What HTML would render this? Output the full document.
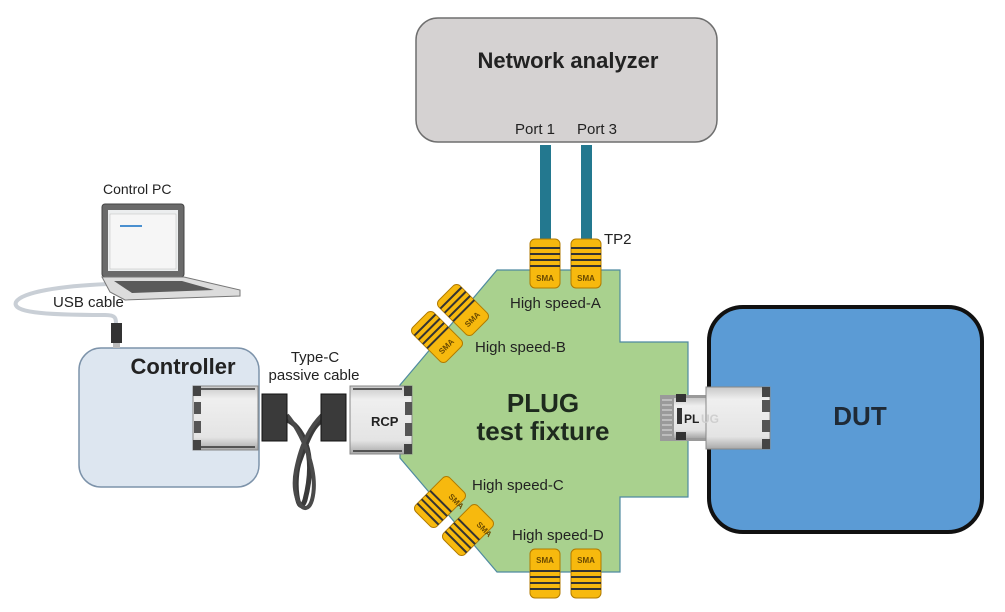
<!DOCTYPE html>
<html><head><meta charset="utf-8"><style>
html,body{margin:0;padding:0;background:#fff;}
svg{display:block;font-family:"Liberation Sans",sans-serif;}
</style></head><body>
<svg width="1005" height="612" viewBox="0 0 1005 612" xmlns="http://www.w3.org/2000/svg">
<defs>
<linearGradient id="silver" x1="0" y1="0" x2="0" y2="1">
<stop offset="0" stop-color="#c8c8c8"/><stop offset="0.2" stop-color="#efefef"/><stop offset="0.8" stop-color="#e4e4e4"/><stop offset="1" stop-color="#a8a8a8"/>
</linearGradient>
</defs>
<!-- Network analyzer -->
<rect x="416" y="18" width="301" height="124" rx="22" fill="#d5d2d2" stroke="#6f6f6f" stroke-width="1.5"/>
<text x="568" y="68" font-size="22" font-weight="bold" text-anchor="middle" fill="#222">Network analyzer</text>
<text x="515" y="134" font-size="15" fill="#222">Port 1</text>
<text x="577" y="134" font-size="15" fill="#222">Port 3</text>
<rect x="540" y="145" width="11" height="96" fill="#23788f"/>
<rect x="581" y="145" width="11" height="96" fill="#23788f"/>
<text x="604" y="244" font-size="15" fill="#222">TP2</text>

<!-- DUT -->
<rect x="709" y="307" width="273" height="225" rx="34" fill="#5b9bd5" stroke="#111" stroke-width="4"/>
<text x="860" y="425" font-size="26" font-weight="bold" text-anchor="middle" fill="#1f2a36">DUT</text>

<!-- Fixture -->
<polygon points="497,270 620,270 620,342 688,342 688,497 620,497 620,572 497,572 400,458 400,385" fill="#a9d18e" stroke="#4f8aa0" stroke-width="1.2"/>
<text x="543" y="412" font-size="26" font-weight="bold" text-anchor="middle" fill="#1e2a1e">PLUG</text>
<text x="543" y="440" font-size="26" font-weight="bold" text-anchor="middle" fill="#1e2a1e">test fixture</text>
<text x="510" y="308" font-size="15" fill="#222">High speed-A</text>
<text x="475" y="352" font-size="15" fill="#222">High speed-B</text>
<text x="472" y="490" font-size="15" fill="#222">High speed-C</text>
<text x="512" y="540" font-size="15" fill="#222">High speed-D</text>

<!-- SMA top -->
<g>
<rect x="530" y="239" width="30" height="49" rx="5" fill="#f7b90e" stroke="#b07a00"/>
<rect x="530" y="247" width="30" height="2" fill="#333"/><rect x="530" y="253" width="30" height="2" fill="#333"/><rect x="530" y="259" width="30" height="2" fill="#333"/><rect x="530" y="265" width="30" height="2" fill="#333"/>
<text x="545" y="281" font-size="8" font-weight="bold" text-anchor="middle" fill="#6b4a00">SMA</text>
<rect x="571" y="239" width="30" height="49" rx="5" fill="#f7b90e" stroke="#b07a00"/>
<rect x="571" y="247" width="30" height="2" fill="#333"/><rect x="571" y="253" width="30" height="2" fill="#333"/><rect x="571" y="259" width="30" height="2" fill="#333"/><rect x="571" y="265" width="30" height="2" fill="#333"/>
<text x="586" y="281" font-size="8" font-weight="bold" text-anchor="middle" fill="#6b4a00">SMA</text>
</g>
<!-- SMA bottom -->
<g>
<rect x="530" y="549" width="30" height="49" rx="5" fill="#f7b90e" stroke="#b07a00"/>
<rect x="530" y="570" width="30" height="2" fill="#333"/><rect x="530" y="576" width="30" height="2" fill="#333"/><rect x="530" y="582" width="30" height="2" fill="#333"/><rect x="530" y="588" width="30" height="2" fill="#333"/>
<text x="545" y="563" font-size="8" font-weight="bold" text-anchor="middle" fill="#6b4a00">SMA</text>
<rect x="571" y="549" width="30" height="49" rx="5" fill="#f7b90e" stroke="#b07a00"/>
<rect x="571" y="570" width="30" height="2" fill="#333"/><rect x="571" y="576" width="30" height="2" fill="#333"/><rect x="571" y="582" width="30" height="2" fill="#333"/><rect x="571" y="588" width="30" height="2" fill="#333"/>
<text x="586" y="563" font-size="8" font-weight="bold" text-anchor="middle" fill="#6b4a00">SMA</text>
</g>
<!-- SMA angled upper -->
<g transform="translate(463,310) rotate(-45)">
<rect x="-15" y="-24" width="30" height="48" rx="5" fill="#f7b90e" stroke="#b07a00"/>
<rect x="-15" y="-18" width="30" height="2" fill="#333"/><rect x="-15" y="-12" width="30" height="2" fill="#333"/><rect x="-15" y="-6" width="30" height="2" fill="#333"/><rect x="-15" y="0" width="30" height="2" fill="#333"/>
<text x="0" y="16" font-size="8" font-weight="bold" text-anchor="middle" fill="#6b4a00">SMA</text>
</g>
<g transform="translate(437,337) rotate(-45)">
<rect x="-15" y="-24" width="30" height="48" rx="5" fill="#f7b90e" stroke="#b07a00"/>
<rect x="-15" y="-18" width="30" height="2" fill="#333"/><rect x="-15" y="-12" width="30" height="2" fill="#333"/><rect x="-15" y="-6" width="30" height="2" fill="#333"/><rect x="-15" y="0" width="30" height="2" fill="#333"/>
<text x="0" y="16" font-size="8" font-weight="bold" text-anchor="middle" fill="#6b4a00">SMA</text>
</g>
<!-- SMA angled lower -->
<g transform="translate(440,502) rotate(-135)">
<rect x="-15" y="-24" width="30" height="48" rx="5" fill="#f7b90e" stroke="#b07a00"/>
<rect x="-15" y="-18" width="30" height="2" fill="#333"/><rect x="-15" y="-12" width="30" height="2" fill="#333"/><rect x="-15" y="-6" width="30" height="2" fill="#333"/><rect x="-15" y="0" width="30" height="2" fill="#333"/>
</g>
<text x="448" y="497" font-size="8" font-weight="bold" fill="#6b4a00" transform="rotate(45 448 497)">SMA</text>
<g transform="translate(468,530) rotate(-135)">
<rect x="-15" y="-24" width="30" height="48" rx="5" fill="#f7b90e" stroke="#b07a00"/>
<rect x="-15" y="-18" width="30" height="2" fill="#333"/><rect x="-15" y="-12" width="30" height="2" fill="#333"/><rect x="-15" y="-6" width="30" height="2" fill="#333"/><rect x="-15" y="0" width="30" height="2" fill="#333"/>
</g>
<text x="476" y="525" font-size="8" font-weight="bold" fill="#6b4a00" transform="rotate(45 476 525)">SMA</text>

<!-- PLUG connector at DUT -->
<rect x="660" y="395" width="46" height="46" fill="#9a9a9a"/>
<g stroke="#e0e0e0" stroke-width="1"><line x1="662" y1="400" x2="672" y2="400"/><line x1="662" y1="405" x2="672" y2="405"/><line x1="662" y1="410" x2="672" y2="410"/><line x1="662" y1="415" x2="672" y2="415"/><line x1="662" y1="420" x2="672" y2="420"/><line x1="662" y1="425" x2="672" y2="425"/><line x1="662" y1="430" x2="672" y2="430"/><line x1="662" y1="435" x2="672" y2="435"/></g>
<rect x="674" y="398" width="32" height="40" fill="url(#silver)"/>
<rect x="676" y="394" width="10" height="8" fill="#333"/><rect x="676" y="432" width="10" height="8" fill="#333"/><rect x="677" y="408" width="5" height="16" fill="#333"/>
<rect x="706" y="387" width="64" height="62" fill="url(#silver)" stroke="#888"/>
<rect x="762" y="387" width="8" height="10" fill="#444"/><rect x="762" y="400" width="8" height="12" fill="#555"/><rect x="762" y="420" width="8" height="12" fill="#555"/><rect x="762" y="439" width="8" height="10" fill="#444"/>
<text x="684" y="423" font-size="12" font-weight="bold" fill="#222">PL</text><text x="701" y="423" font-size="12" font-weight="bold" fill="#cfcfcf">UG</text>

<!-- Controller -->
<rect x="79" y="348" width="180" height="139" rx="22" fill="#dde6f0" stroke="#7d93aa" stroke-width="1.5"/>
<text x="183" y="374" font-size="22" font-weight="bold" text-anchor="middle" fill="#222">Controller</text>
<rect x="193" y="386" width="65" height="64" fill="url(#silver)" stroke="#888"/>
<rect x="193" y="386" width="8" height="10" fill="#444"/><rect x="194" y="402" width="7" height="12" fill="#555"/><rect x="194" y="421" width="7" height="12" fill="#555"/><rect x="193" y="440" width="8" height="10" fill="#444"/>
<line x1="201" y1="389" x2="255" y2="389" stroke="#333" stroke-width="1.5"/><line x1="201" y1="447" x2="255" y2="447" stroke="#333" stroke-width="1.5"/>

<!-- Type-C cable -->
<path d="M287,420 C300,425 318,450 305,500 C298,520 292,480 300,460 C310,432 315,425 322,420" fill="none" stroke="#3a3a3a" stroke-width="5"/>
<path d="M287,415 C300,430 320,470 312,500 C306,520 290,500 296,470 C302,440 312,425 322,415" fill="none" stroke="#4a4a4a" stroke-width="4"/>
<rect x="262" y="394" width="25" height="47" fill="#3a3a3a" stroke="#111"/>
<rect x="321" y="394" width="25" height="47" fill="#3a3a3a" stroke="#111"/>
<text x="315" y="362" font-size="15" text-anchor="middle" fill="#222">Type-C</text>
<text x="314" y="380" font-size="15" text-anchor="middle" fill="#222">passive cable</text>

<!-- RCP -->
<rect x="350" y="386" width="62" height="68" fill="url(#silver)" stroke="#888"/>
<rect x="404" y="386" width="8" height="10" fill="#444"/><rect x="405" y="402" width="7" height="13" fill="#555"/><rect x="405" y="423" width="7" height="13" fill="#555"/><rect x="404" y="444" width="8" height="10" fill="#444"/>
<line x1="353" y1="389" x2="402" y2="389" stroke="#333" stroke-width="1.5"/><line x1="353" y1="451" x2="402" y2="451" stroke="#333" stroke-width="1.5"/>
<text x="371" y="426" font-size="13" font-weight="bold" fill="#222">RCP</text>

<!-- USB cable -->
<path d="M108,284 C60,286 22,292 16,302 C12,312 40,315 105,315 C116,315 116,318 116,325" fill="none" stroke="#c9cfd6" stroke-width="4"/>
<rect x="111" y="323" width="11" height="20" fill="#333"/>
<rect x="113" y="343" width="7" height="5" fill="#bbb"/>
<text x="53" y="307" font-size="15" fill="#222">USB cable</text>

<!-- Laptop -->
<text x="103" y="194" font-size="14" fill="#222">Control PC</text>
<rect x="102" y="204" width="82" height="73" rx="3" fill="#6a6a6a" stroke="#444"/>
<rect x="108" y="210" width="70" height="61" fill="#eceeef"/>
<rect x="110" y="214" width="66" height="55" fill="#f6f6f6" stroke="#bbb" stroke-width="0.5"/>
<rect x="120" y="225" width="22" height="2" fill="#4a90d0"/>
<polygon points="102,277 184,277 240,290 240,296 125,300 110,292" fill="#dcdcdc" stroke="#777"/>
<polygon points="114,281 182,281 214,290 132,293" fill="#5a5a5a"/>
</svg>
</body></html>
